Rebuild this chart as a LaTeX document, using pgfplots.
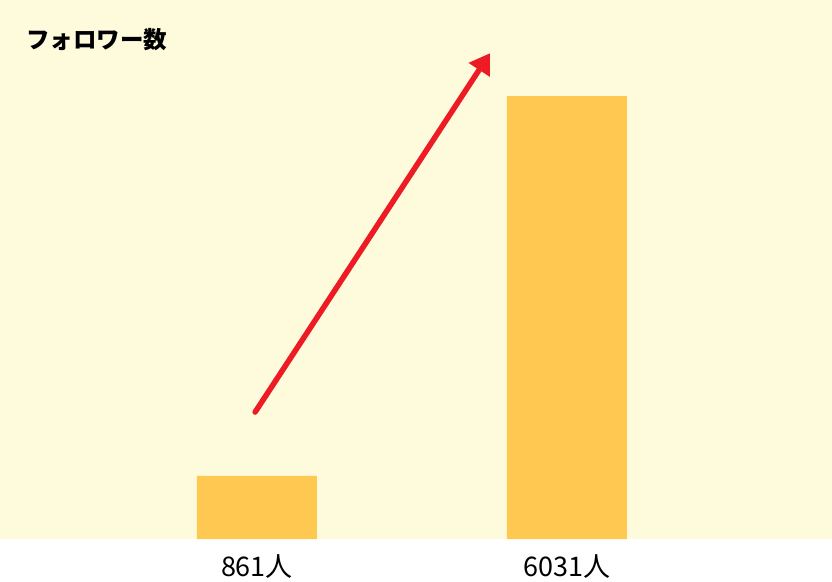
\documentclass[border=0pt]{standalone}
\usepackage{pgfplots}
\pgfplotsset{compat=1.18}
\usetikzlibrary{arrows.meta}
\usepackage{fontspec}
\setmainfont{Noto Sans CJK JP}
\newfontfamily\cjk{Noto Sans CJK JP}
\definecolor{bgy}{HTML}{FEFADC}
\definecolor{bary}{HTML}{FFC851}
\definecolor{arred}{HTML}{ED1C24}
\begin{document}
\begin{tikzpicture}
\path[fill=white] (0,0) rectangle (832bp,580bp);
\begin{axis}[
  at={(0,41bp)}, anchor=south west,
  scale only axis, width=832bp, height=539bp,
  xmin=-0.829, xmax=1.855, ymin=0, ymax=7338,
  axis background/.style={fill=bgy},
  axis line style={draw=none},
  major tick length=0pt,
  ytick=\empty,
  xtick={0,1}, xticklabels={861人,6031人},
  xticklabel style={font=\cjk\fontsize{27bp}{31bp}\selectfont, anchor=base, yshift=-37bp},
  ybar, bar width=0.387,
  clip=false,
]
\addplot[fill=bary, draw=none] coordinates {(0,861) (1,6031)};
\draw[arred, line width=5.5bp, line cap=round, -{Triangle[length=20bp,width=24bp]}]
  (axis cs:-0.006,1729) -- (axis cs:0.752,6616);
\end{axis}
\node[anchor=west, inner sep=0pt] at (26bp,540bp) {\cjk\bfseries\fontsize{23.5bp}{27bp}\selectfont フォロワー数};
\end{tikzpicture}
\end{document}
